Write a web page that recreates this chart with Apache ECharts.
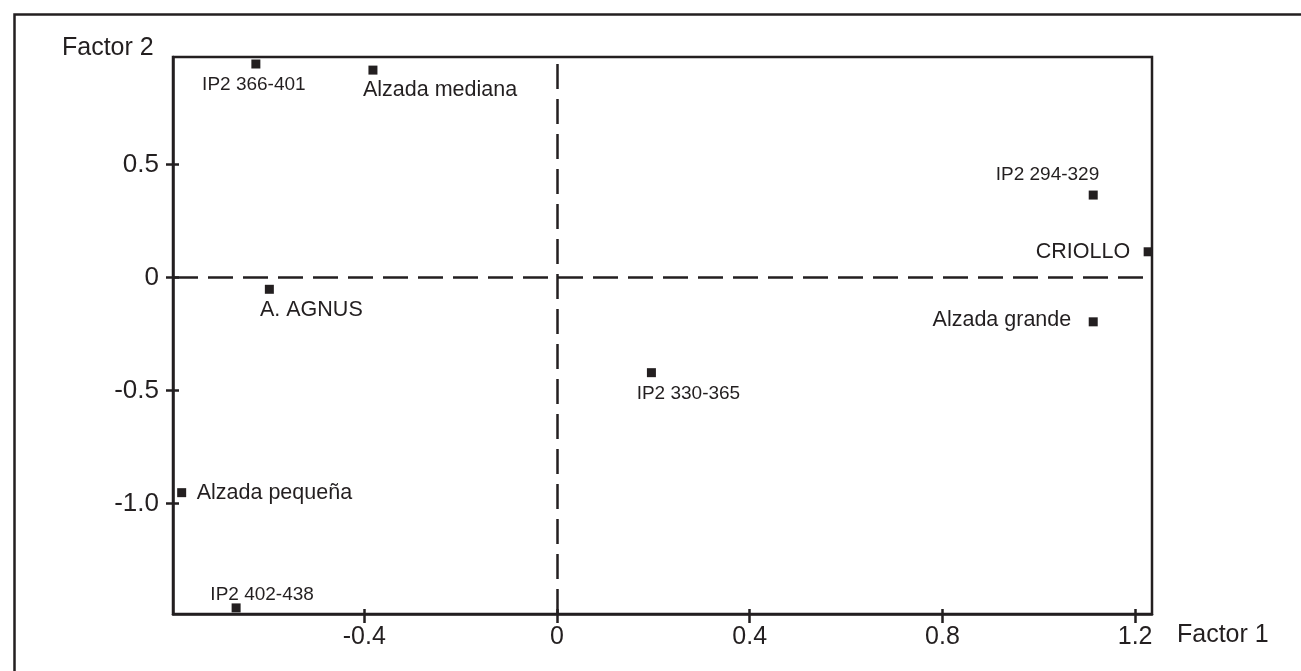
<!DOCTYPE html>
<html>
<head>
<meta charset="utf-8">
<script src="https://cdn.jsdelivr.net/npm/echarts@6/dist/echarts.min.js"></script>
<style>
html,body{margin:0;padding:0;background:#fff;}
#chart{width:1301px;height:671px;}
</style>
</head>
<body>
<div id="chart"></div>
<script>
// ---- data ----
const names   = ['IP2 366-401','Alzada mediana','IP2 294-329','CRIOLLO','Alzada grande','Alzada pequeña','IP2 402-438','A. AGNUS','IP2 330-365'];
const factor1 = [-0.625, -0.382, 1.113, 1.227, 1.113, -0.779, -0.666, -0.597, 0.196];
const factor2 = [0.945, 0.918, 0.365, 0.114, -0.196, -0.952, -1.462, -0.052, -0.421];
const xTicks  = [-0.4, 0, 0.4, 0.8, 1.2];
const yTicks  = [0.5, 0, -0.5, -1.0];
const xRange  = [-0.797, 1.235];
const yRange  = [-1.489, 0.976];

// ---- label layout (style only) ----
const labelLayout = [
  {align:'center', dx:-2,  dy:21,  size:19},
  {align:'left',   dx:-10, dy:20,  size:21.5},
  {align:'right',  dx:6,   dy:-20, size:19},
  {align:'right',  dx:-18, dy:0,   size:21.5},
  {align:'right',  dx:-22, dy:-2,  size:21.5},
  {align:'left',   dx:15,  dy:0,   size:21.5},
  {align:'center', dx:26,  dy:-13, size:19},
  {align:'center', dx:42,  dy:21,  size:21.5},
  {align:'center', dx:37,  dy:21,  size:19}
];

const INK = '#231f20';
const FONT = '"Liberation Sans", Arial, Helvetica, sans-serif';
const fmt = v => (v === 0 ? '0' : v.toFixed(1));

const points = names.map((n, i) => ({
  name: n,
  value: [factor1[i], factor2[i]],
  label: {
    show: true,
    formatter: n,
    position: 'inside',
    align: labelLayout[i].align,
    verticalAlign: 'middle',
    offset: [labelLayout[i].dx, labelLayout[i].dy],
    fontSize: labelLayout[i].size,
    color: INK,
    opacity: 1,
    fontFamily: FONT
  }
}));

const baseX = {
  type: 'value', min: xRange[0], max: xRange[1], position: 'bottom',
  splitLine: {show: false}
};
const baseY = {
  type: 'value', min: yRange[0], max: yRange[1], position: 'left',
  splitLine: {show: false}
};

const chart = echarts.init(document.getElementById('chart'), null, {renderer: 'canvas'});
chart.setOption({
  backgroundColor: '#fff',
  animation: false,
  grid: {
    left: 173, right: 149, top: 57, bottom: 57,
    show: true, borderColor: INK, borderWidth: 2.5, backgroundColor: 'transparent'
  },
  xAxis: [
    Object.assign({}, baseX, {
      axisLine: {show: true, onZero: false, lineStyle: {color: INK, width: 2.5}},
      axisTick: {show: true, inside: false, length: 9, customValues: xTicks, lineStyle: {color: INK, width: 2.5}},
      axisLabel: {show: true, customValues: xTicks, formatter: fmt, margin: 11, fontSize: 25, color: INK, fontFamily: FONT}
    }),
    Object.assign({}, baseX, {
      axisLine: {show: false, onZero: false},
      axisTick: {show: true, inside: true, length: 5, customValues: xTicks, lineStyle: {color: INK, width: 2.5}},
      axisLabel: {show: false}
    })
  ],
  yAxis: [
    Object.assign({}, baseY, {
      axisLine: {show: true, onZero: false, lineStyle: {color: INK, width: 2.5}},
      axisTick: {show: true, inside: false, length: 7, customValues: yTicks, lineStyle: {color: INK, width: 2.5}},
      axisLabel: {show: true, customValues: yTicks, formatter: fmt, margin: 14, fontSize: 26, color: INK, fontFamily: FONT}
    }),
    Object.assign({}, baseY, {
      axisLine: {show: false, onZero: false},
      axisTick: {show: true, inside: true, length: 6, customValues: yTicks, lineStyle: {color: INK, width: 2.5}},
      axisLabel: {show: false}
    })
  ],
  graphic: [
    {type: 'rect', left: 12, top: 12, shape: {width: 1400, height: 800},
     style: {fill: 'none', stroke: INK, lineWidth: 2.5}, silent: true},
    {type: 'text', left: 62, top: 36,
     style: {text: 'Factor 2', fontSize: 25, fill: INK, font: '25px ' + FONT}},
    {type: 'text', left: 1177, top: 623,
     style: {text: 'Factor 1', fontSize: 25, fill: INK, font: '25px ' + FONT}}
  ],
  series: [{
    type: 'scatter',
    xAxisIndex: 0, yAxisIndex: 0,
    symbol: 'rect',
    symbolSize: 9,
    itemStyle: {color: INK, opacity: 1},
    data: points,
    markLine: {
      silent: true,
      symbol: ['none', 'none'],
      label: {show: false},
      lineStyle: {color: INK, width: 2.5, type: [25, 10], opacity: 1},
      data: [{xAxis: 0}, {yAxis: 0}]
    }
  }]
});
</script>
</body>
</html>
